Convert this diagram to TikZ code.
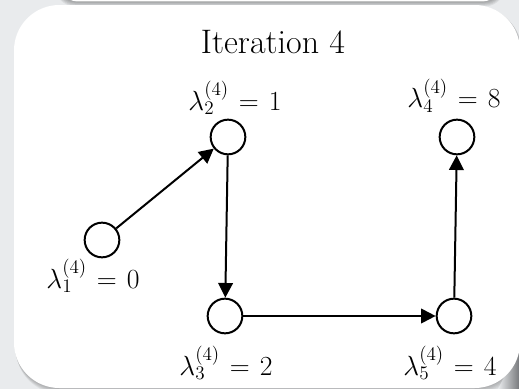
\documentclass[tikz,border=0pt]{standalone}
\usetikzlibrary{arrows.meta}
\definecolor{bg}{RGB}{233,235,237}
\definecolor{shd}{RGB}{120,122,125}
\newcommand\lblspacing{\thickmuskip=6.5mu\relax}
\begin{document}
\begin{tikzpicture}[x=0.75pt,y=-0.75pt,
  vtx/.style={circle,draw,line width=1.5pt,minimum size=26pt,inner sep=0pt},
  lbl/.style={anchor=base,font=\fontsize{20}{22}\selectfont\lblspacing,inner sep=0pt},
  ttl/.style={anchor=base,font=\fontsize{25.5}{28}\selectfont,inner sep=0pt},
  edge/.style={line width=1.5pt,-{Triangle[length=11pt,width=11pt]}}]
\useasboundingbox (0,0) rectangle (519,389);
\fill[bg] (0,0) rectangle (519,389);
% card above (only its lower edge is seen)
\foreach \i in {1,...,6}
  \fill[black,opacity=0.06,rounded corners=15pt] (58-\i*0.5,-60) rectangle (502+\i*0.5,1+\i*0.9);
\fill[white,rounded corners=15pt] (58,-60) rectangle (502,1.5);
% main card shadow
\foreach \i in {1,...,6}
  \fill[black,opacity=0.045,rounded corners=34pt] (14+\i*0.3,5+\i*0.4) rectangle (520+\i*0.4,388+\i*1.0);
% curl shadow at lower right
\shade[left color=bg,right color=shd] (498,389) -- (519,348) -- (519,389) -- cycle;
\fill[white,rounded corners=34pt] (14,5) rectangle (520,388);
% title
\node[ttl] (title) at (273,54) {Iteration 4};
% vertices
\node[vtx] (n1) at (102,240) {};
\node[vtx] (n2) at (228,137) {};
\node[vtx] (n3) at (225,316) {};
\node[vtx] (n4) at (457,137) {};
\node[vtx] (n5) at (454,316) {};
% labels
\node[lbl] (l1) at (93,288) {$\lambda_1^{(4)} = 0$};
\node[lbl] (l2) at (235,110) {$\lambda_2^{(4)} = 1$};
\node[lbl] (l3) at (226,375) {$\lambda_3^{(4)} = 2$};
\node[lbl] (l4) at (454,108) {$\lambda_4^{(4)} = 8$};
\node[lbl] (l5) at (450,375) {$\lambda_5^{(4)} = 4$};
% edges
\draw[edge] (n1) -- (n2);
\draw[edge] (n2) -- (n3);
\draw[edge] (n3) -- (n5);
\draw[edge] (n5) -- (n4);
\end{tikzpicture}
\end{document}
